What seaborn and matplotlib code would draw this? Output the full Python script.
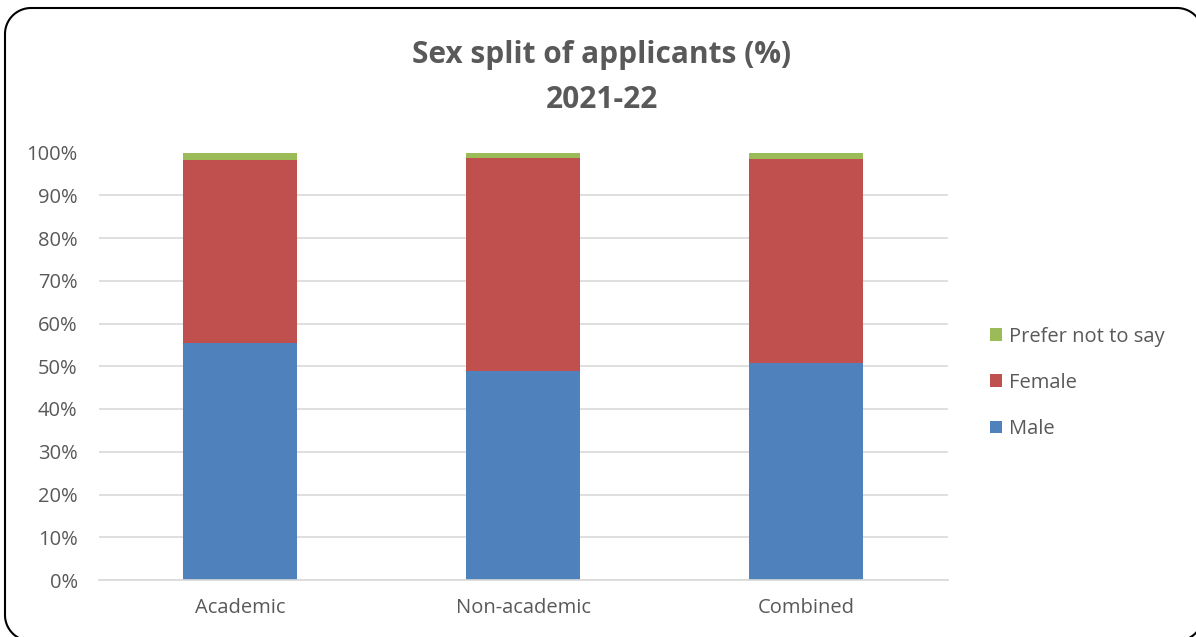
import matplotlib
matplotlib.use("Agg")
import matplotlib.pyplot as plt
from matplotlib.lines import Line2D
import numpy as np
import pandas as pd
import seaborn as sns

categories = ["Academic", "Non-academic", "Combined"]
male = [55.5, 49.0, 50.7]
female = [42.7, 49.6, 47.8]
prefer_not = [1.8, 1.4, 1.5]

sns.set_theme(style="white")
plt.rcParams["font.family"] = ["Open Sans", "DejaVu Sans"]

grey = "#595959"
colors = {"Male": "#4F81BD", "Female": "#C0504D", "Prefer not to say": "#9BBB59"}

W, H = 1196, 637
fig = plt.figure(figsize=(W / 100, H / 100), dpi=100)
ax = fig.add_axes([98.5 / W, 1 - 580 / H, 849 / W, 427.5 / H])

df = pd.DataFrame({"cat": categories, "Male": male, "Female": female,
                   "Prefer not to say": prefer_not})
bottom = np.zeros(len(categories))
for series in ["Male", "Female", "Prefer not to say"]:
    sns.barplot(data=df, x="cat", y=series, color=colors[series], width=0.4,
                bottom=bottom, ax=ax, saturation=1, label=series, zorder=2,
                linewidth=0)
    bottom = bottom + df[series].values

ax.set_ylim(0, 100)
ax.set_xlim(-0.5, 2.5)
ax.set_yticks(range(0, 101, 10))
ax.set_yticklabels([f"{v}%" for v in range(0, 101, 10)])
ax.yaxis.grid(True, color="#D9D9D9", linewidth=1.2, zorder=0)
ax.set_axisbelow(True)
for s in ["top", "right", "left"]:
    ax.spines[s].set_visible(False)
ax.spines["bottom"].set_color("#D9D9D9")
ax.spines["bottom"].set_linewidth(1.2)
ax.tick_params(axis="both", colors=grey, labelsize=14.5, length=0)
ax.tick_params(axis="y", pad=15)
ax.tick_params(axis="x", pad=13)
ax.set_xlabel("")
ax.set_ylabel("")

h, l = ax.get_legend_handles_labels()
leg = ax.legend(h[::-1], l[::-1], loc="center left", bbox_to_anchor=(1.04, 0.461),
                frameon=False, fontsize=14.5, handlelength=0.6, handleheight=0.6,
                handletextpad=0.35, labelspacing=1.3, labelcolor=grey,
                borderaxespad=0)

fig.text(0.503, 1 - 55 / H, "Sex split of applicants (%)", ha="center", va="center",
         fontsize=21.5, fontweight="bold", color=grey)
fig.text(0.503, 1 - 100 / H, "2021-22", ha="center", va="center",
         fontsize=21.5, fontweight="bold", color=grey)

# rounded chart-area frame as a plain polyline (right/bottom edges run past the image)
r = 26
left, right, top, bot = 5, 1203, H - 8, -4
xs, ys = [], []
for cx, cy, a0 in [(left + r, top - r, 90), (left + r, bot + r, 180),
                   (right - r, bot + r, 270), (right - r, top - r, 0)]:
    t = np.radians(np.linspace(a0, a0 + 90, 25))
    xs.extend(cx + r * np.cos(t))
    ys.extend(cy + r * np.sin(t))
xs.append(xs[0])
ys.append(ys[0])
fig.add_artist(Line2D(np.array(xs) / W, np.array(ys) / H, color="black",
                      linewidth=1.5, transform=fig.transFigure))

fig.savefig("out.png", dpi=100)
